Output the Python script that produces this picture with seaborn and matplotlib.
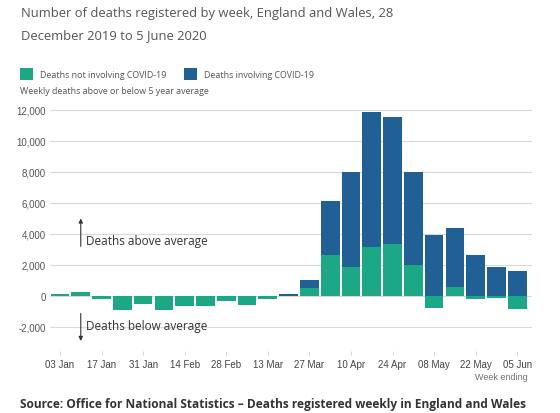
import matplotlib
matplotlib.use("Agg")
import matplotlib.pyplot as plt
from matplotlib.patches import Rectangle
import seaborn as sns

# Weekly deaths above/below the 5 year average, England and Wales
weeks = ["03 Jan", "10 Jan", "17 Jan", "24 Jan", "31 Jan", "07 Feb", "14 Feb",
         "21 Feb", "28 Feb", "06 Mar", "13 Mar", "20 Mar", "27 Mar", "03 Apr",
         "10 Apr", "17 Apr", "24 Apr", "01 May", "08 May", "15 May", "22 May",
         "29 May", "05 Jun"]
not_covid = [80, 240, -190, -900, -560, -900, -690, -690, -320, -580, -190, -30,
             490, 2630, 1820, 3130, 3360, 1990, -810, 540, -240, -130, -860]
covid = [0, 0, 0, 0, 0, 0, 0, 0, 0, 0, 0, 100,
         540, 3450, 6170, 8710, 8160, 6000, 3940, 3830, 2610, 1820, 1580]
yticks = [-2000, 0, 2000, 4000, 6000, 8000, 10000, 12000]
xlabels = weeks[::2]

GREEN = "#1ca886"
BLUE = "#206095"
GREY = "#707070"

sns.set_theme(style="white")
plt.rcParams["font.family"] = ["Open Sans", "DejaVu Sans"]

fig = plt.figure(figsize=(5.6, 4.14), dpi=100)
ax = fig.add_axes([50 / 560, 1 - 352 / 414, 482 / 560, (352 - 107.6) / 414])

# blue stacks on top of positive green, starts from zero when green is negative
blue_top = [max(g, 0) + c for g, c in zip(not_covid, covid)]
sns.barplot(x=weeks, y=blue_top, order=weeks, color=BLUE, saturation=1,
            width=0.9, linewidth=0, ax=ax)
sns.barplot(x=weeks, y=not_covid, order=weeks, color=GREEN, saturation=1,
            width=0.9, linewidth=0, ax=ax)

ax.set_ylim(-3570, 12200)
ax.set_xlim(-0.48, 22.71)
ax.set_yticks(yticks)
ax.set_yticklabels([f"{v:,}" for v in yticks], fontsize=7, color="#555555",
                   fontfamily="Liberation Sans")
ax.set_xticks(range(0, len(weeks), 2))
ax.set_xticklabels(xlabels, fontsize=7, color="#444444", fontfamily="Liberation Sans")
ax.tick_params(axis="y", length=0, pad=3)
ax.tick_params(axis="x", length=3, width=0.6, color="#d0d0d0", pad=3, direction="out",
               bottom=True)
ax.set_xlabel("")
ax.set_ylabel("")
for s in ax.spines.values():
    s.set_visible(False)
ax.set_axisbelow(True)
ax.yaxis.grid(True, color="#d9d9d9", linewidth=0.8)

# annotations
ax.annotate("", xy=(1.0, 5160), xytext=(1.0, 3010),
            arrowprops=dict(arrowstyle="-|>", color="#333333", lw=0.8, mutation_scale=6))
ax.text(1.27, 3550, "Deaths above average", fontsize=8.5, color="#333333", va="center")
ax.annotate("", xy=(1.0, -3100), xytext=(1.0, -970),
            arrowprops=dict(arrowstyle="-|>", color="#333333", lw=0.8, mutation_scale=6),
            annotation_clip=False)
ax.text(1.27, -1935, "Deaths below average", fontsize=8.5, color="#333333", va="center")

# title, legend and notes
fig.text(21 / 560, 1 - 14 / 414, "Number of deaths registered by week, England and Wales, 28",
         fontsize=9.4, color="#555555", va="center")
fig.text(21 / 560, 1 - 36 / 414, "December 2019 to 5 June 2020",
         fontsize=9.4, color="#555555", va="center")

fig.add_artist(Rectangle((20 / 560, 1 - 81 / 414), 13 / 560, 12 / 414,
                         transform=fig.transFigure, color=GREEN, lw=0))
fig.text(40 / 560, 1 - 75 / 414, "Deaths not involving COVID-19",
         fontsize=6.4, color="#555555", va="center")
fig.add_artist(Rectangle((184 / 560, 1 - 81 / 414), 13 / 560, 12 / 414,
                         transform=fig.transFigure, color=BLUE, lw=0))
fig.text(204 / 560, 1 - 75 / 414, "Deaths involving COVID-19",
         fontsize=6.4, color="#555555", va="center")
fig.text(20 / 560, 1 - 92 / 414, "Weekly deaths above or below 5 year average",
         fontsize=6.4, color="#555555", va="center")

fig.text(528 / 560, 1 - 378 / 414, "Week ending", fontsize=6.5, color=GREY,
         ha="right", va="center", fontfamily="Liberation Sans")
fig.text(20 / 560, 1 - 405 / 414,
         "Source: Office for National Statistics \u2013 Deaths registered weekly in England and Wales",
         fontsize=8.6, fontweight="bold", color="#333333", va="center")

fig.savefig("out.png", dpi=100)
